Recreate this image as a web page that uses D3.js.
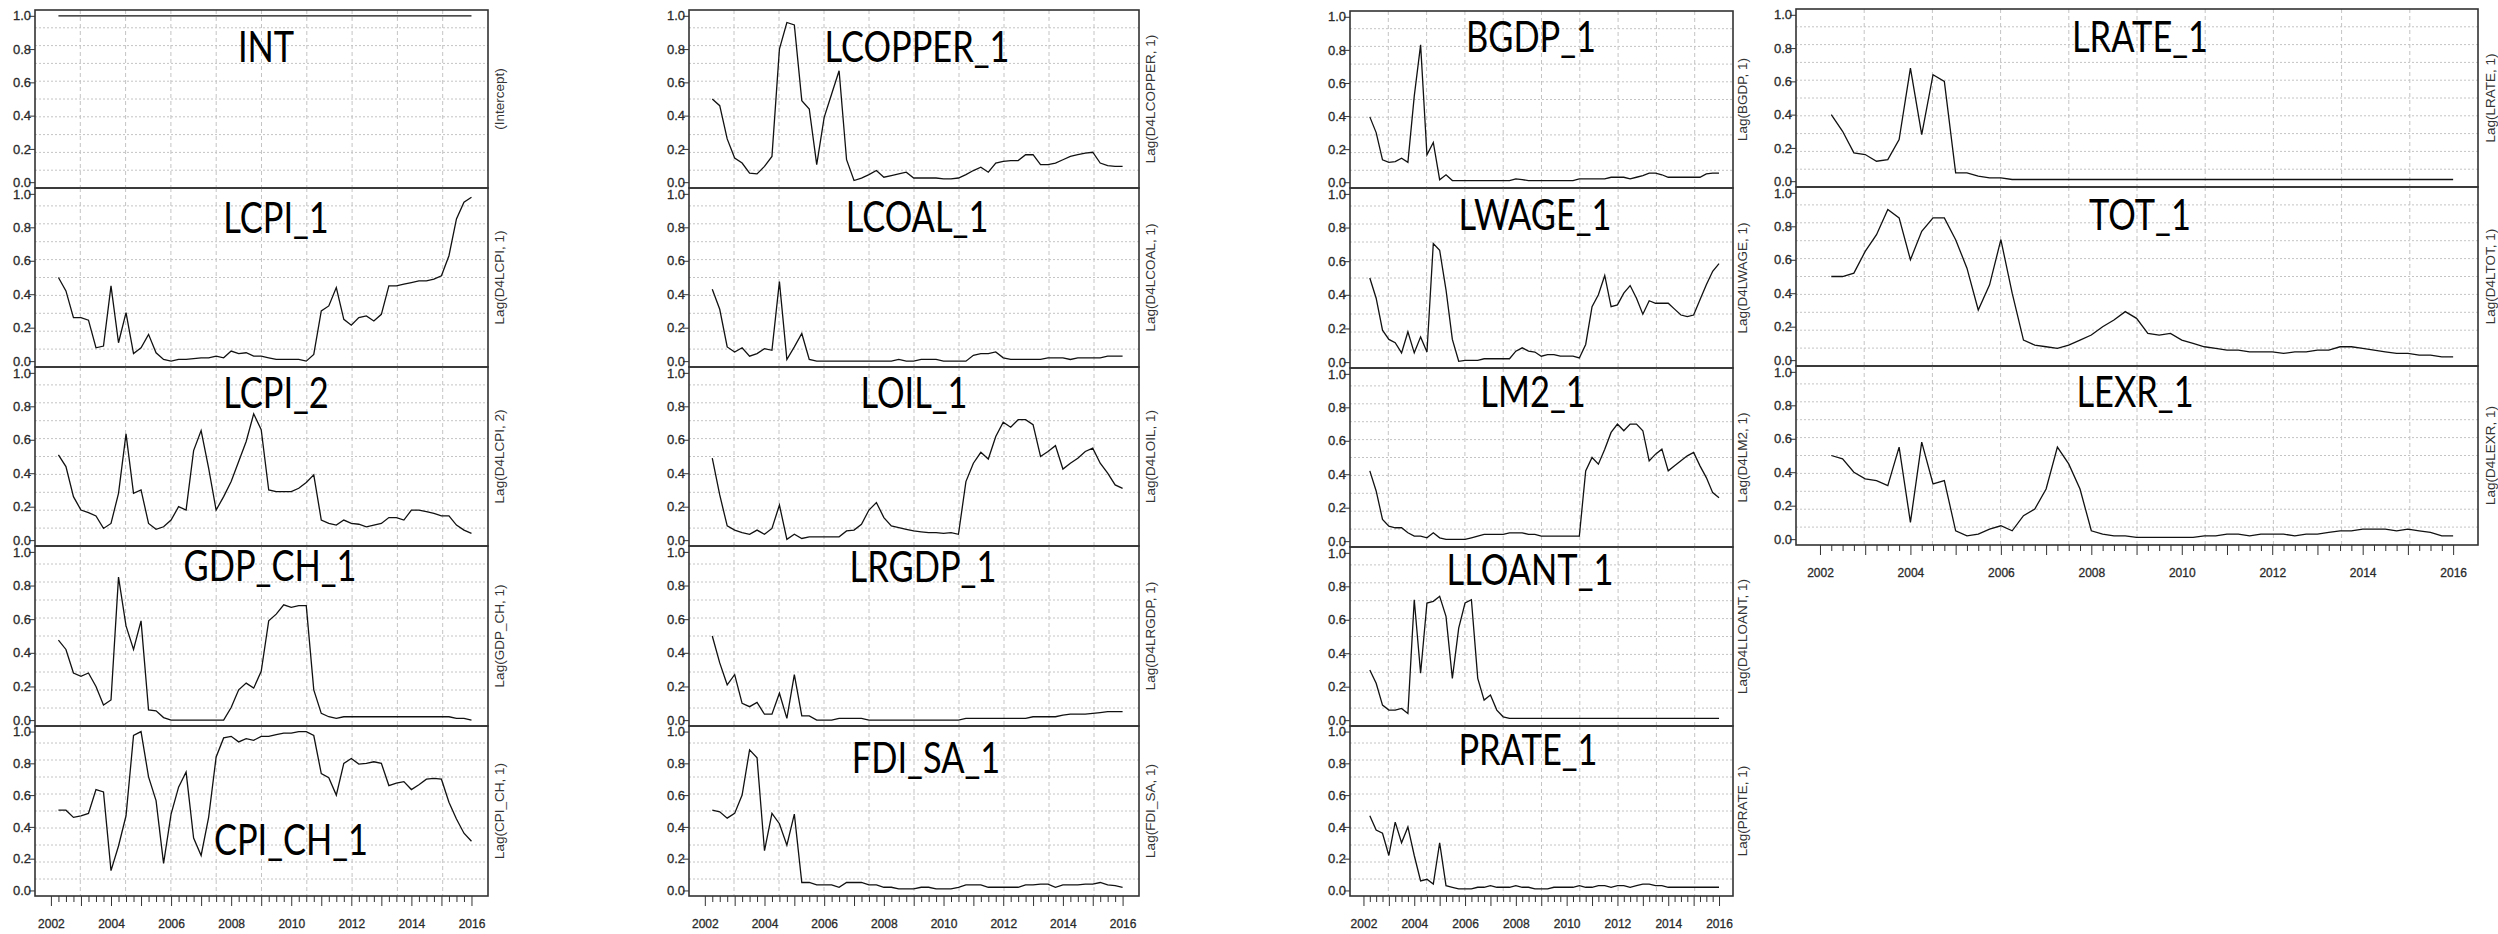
<!DOCTYPE html>
<head>
  <meta charset="utf-8">
  <script src="https://d3js.org/d3.v7.min.js"></script>
  <style>
    body { margin: 0; background: #fff; }
    .tick text { font-family: "Liberation Sans", Arial, sans-serif; fill: #2a2a2a; stroke: #2a2a2a; stroke-width: 0.3px; }
    .side { font-family: "Liberation Sans", Arial, sans-serif; font-size: 13.5px; fill: #333; }
    .title { font-family: Lato, "Open Sans", sans-serif; font-size: 42px; fill: #000; }
  </style>
</head>

<body>
  <script>
    // quarterly estimates, 2002Q2 .. 2016Q1
    var INT = [1,1,1,1,1,1,1,1,1,1, 1,1,1,1,1,1,1,1,1,1, 1,1,1,1,1,1,1,1,1,1, 1,1,1,1,1,1,1,1,1,1, 1,1,1,1,1,1,1,1,1,1, 1,1,1,1,1,1];
    var LCPI_1 = [0.50,0.42,0.26,0.26,0.245,0.08,0.09,0.45,0.11,0.29, 0.045,0.08,0.16,0.05,0.01,0.0,0.01,0.01,0.015,0.02, 0.02,0.03,0.02,0.06,0.045,0.05,0.03,0.03,0.02,0.01, 0.01,0.01,0.01,0.0,0.04,0.30,0.33,0.44,0.25,0.215, 0.26,0.27,0.24,0.28,0.45,0.45,0.46,0.47,0.48,0.48, 0.49,0.51,0.63,0.85,0.95,0.98];
    var LCPI_2 = [0.51,0.44,0.26,0.18,0.165,0.145,0.07,0.10,0.28,0.635, 0.28,0.30,0.10,0.065,0.08,0.12,0.20,0.18,0.535,0.655, 0.43,0.18,0.26,0.35,0.47,0.59,0.755,0.66,0.30,0.29, 0.29,0.29,0.31,0.345,0.39,0.12,0.10,0.09,0.12,0.10, 0.095,0.08,0.09,0.10,0.135,0.135,0.12,0.18,0.18,0.17, 0.16,0.145,0.145,0.09,0.06,0.04];
    var GDP_CH_1 = [0.475,0.42,0.28,0.26,0.28,0.20,0.09,0.12,0.85,0.56, 0.42,0.59,0.06,0.055,0.015,0,0,0,0,0, 0,0,0,0.075,0.18,0.22,0.19,0.29,0.59,0.63, 0.685,0.67,0.68,0.68,0.18,0.04,0.02,0.01,0.02,0.02, 0.02,0.02,0.02,0.02,0.02,0.02,0.02,0.02,0.02,0.02, 0.02,0.02,0.02,0.01,0.01,0.0];
    var CPI_CH_1 = [0.505,0.505,0.46,0.47,0.485,0.635,0.62,0.125,0.28,0.47, 0.975,1.0,0.715,0.565,0.17,0.48,0.65,0.745,0.33,0.22, 0.46,0.84,0.96,0.97,0.935,0.955,0.945,0.97,0.97,0.98, 0.99,0.99,1.0,1.0,0.975,0.735,0.71,0.60,0.80,0.83, 0.795,0.80,0.81,0.80,0.66,0.675,0.685,0.635,0.665,0.70, 0.705,0.70,0.555,0.45,0.36,0.31];

    var LCOPPER_1 = [0.50,0.46,0.26,0.145,0.115,0.055,0.05,0.095,0.155,0.80, 0.96,0.945,0.49,0.44,0.105,0.39,0.53,0.67,0.135,0.01, 0.025,0.045,0.07,0.03,0.04,0.05,0.06,0.025,0.025,0.025, 0.025,0.02,0.02,0.025,0.045,0.07,0.09,0.06,0.115,0.125, 0.13,0.13,0.165,0.165,0.105,0.105,0.115,0.135,0.155,0.165, 0.175,0.18,0.115,0.10,0.095,0.095];
    var LCOAL_1 = [0.43,0.31,0.085,0.055,0.08,0.03,0.045,0.075,0.065,0.475, 0.01,0.085,0.165,0.01,0,0,0,0,0,0, 0,0,0,0,0,0.01,0,0,0.01,0.01, 0.01,0,0,0,0,0.035,0.045,0.045,0.055,0.02, 0.01,0.01,0.01,0.01,0.01,0.02,0.02,0.02,0.01,0.02, 0.02,0.02,0.02,0.03,0.03,0.03];
    var LOIL_1 = [0.49,0.27,0.085,0.06,0.045,0.035,0.06,0.035,0.07,0.21, 0.005,0.035,0.01,0.02,0.02,0.02,0.02,0.02,0.055,0.06, 0.095,0.18,0.225,0.135,0.085,0.075,0.065,0.055,0.05,0.045, 0.045,0.04,0.045,0.035,0.35,0.46,0.525,0.485,0.62,0.705, 0.675,0.72,0.72,0.69,0.50,0.53,0.565,0.425,0.46,0.49, 0.53,0.55,0.46,0.40,0.33,0.31];
    var LRGDP_1 = [0.50,0.34,0.21,0.27,0.10,0.08,0.105,0.035,0.035,0.16, 0.01,0.27,0.025,0.025,0,0,0,0.01,0.01,0.01, 0.01,0,0,0,0,0,0,0,0,0, 0,0,0,0,0.01,0.01,0.01,0.01,0.01,0.01, 0.01,0.01,0.01,0.02,0.02,0.02,0.02,0.03,0.035,0.035, 0.035,0.04,0.045,0.05,0.05,0.05];
    var FDI_SA_1 = [0.505,0.495,0.455,0.485,0.60,0.885,0.835,0.25,0.485,0.42, 0.285,0.48,0.05,0.05,0.035,0.035,0.035,0.02,0.05,0.05, 0.05,0.035,0.035,0.02,0.02,0.01,0.01,0.01,0.02,0.02, 0.01,0.01,0.01,0.02,0.035,0.035,0.035,0.02,0.02,0.02, 0.02,0.02,0.035,0.035,0.04,0.04,0.02,0.035,0.035,0.035, 0.04,0.04,0.05,0.035,0.03,0.02];

    var BGDP_1 = [0.395,0.30,0.135,0.12,0.125,0.145,0.12,0.52,0.83,0.165, 0.24,0.015,0.045,0.01,0.01,0.01,0.01,0.01,0.01,0.01, 0.01,0.01,0.01,0.02,0.015,0.01,0.01,0.01,0.01,0.01, 0.01,0.01,0.01,0.02,0.02,0.02,0.02,0.02,0.03,0.03, 0.03,0.02,0.03,0.04,0.055,0.055,0.045,0.03,0.03,0.03, 0.03,0.03,0.03,0.05,0.055,0.055];
    var LWAGE_1 = [0.50,0.38,0.19,0.135,0.115,0.055,0.18,0.055,0.15,0.06, 0.705,0.665,0.43,0.135,0.005,0.01,0.01,0.01,0.02,0.02, 0.02,0.02,0.02,0.065,0.085,0.065,0.06,0.035,0.045,0.045, 0.035,0.035,0.035,0.025,0.105,0.33,0.40,0.515,0.33,0.34, 0.41,0.455,0.38,0.285,0.365,0.35,0.35,0.35,0.315,0.28, 0.27,0.28,0.37,0.46,0.54,0.585];
    var LM2_1 = [0.42,0.30,0.13,0.09,0.08,0.08,0.05,0.03,0.03,0.02, 0.05,0.02,0.01,0.01,0.01,0.01,0.02,0.03,0.04,0.04, 0.04,0.04,0.05,0.05,0.05,0.04,0.04,0.03,0.03,0.03, 0.03,0.03,0.03,0.03,0.42,0.50,0.46,0.55,0.65,0.70, 0.66,0.70,0.70,0.66,0.48,0.52,0.55,0.42,0.45,0.48, 0.51,0.53,0.45,0.38,0.29,0.26];
    var LLOANT_1 = [0.30,0.22,0.09,0.06,0.06,0.07,0.04,0.72,0.28,0.70, 0.71,0.74,0.62,0.25,0.55,0.70,0.72,0.25,0.12,0.15, 0.06,0.02,0.01,0.01,0.01,0.01,0.01,0.01,0.01,0.01, 0.01,0.01,0.01,0.01,0.01,0.01,0.01,0.01,0.01,0.01, 0.01,0.01,0.01,0.01,0.01,0.01,0.01,0.01,0.01,0.01, 0.01,0.01,0.01,0.01,0.01,0.01];
    var PRATE_1 = [0.47,0.38,0.36,0.22,0.43,0.30,0.40,0.22,0.06,0.07, 0.04,0.30,0.03,0.02,0.01,0.01,0.01,0.02,0.02,0.03, 0.02,0.02,0.02,0.03,0.02,0.02,0.01,0.01,0.01,0.02, 0.02,0.02,0.02,0.03,0.02,0.02,0.03,0.03,0.02,0.03, 0.03,0.02,0.03,0.04,0.04,0.03,0.03,0.02,0.02,0.02, 0.02,0.02,0.02,0.02,0.02,0.02];

    var LRATE_1 = [0.40,0.30,0.17,0.16,0.12,0.13,0.25,0.68,0.28,0.64, 0.60,0.05,0.05,0.03,0.02,0.02,0.01,0.01,0.01,0.01, 0.01,0.01,0.01,0.01,0.01,0.01,0.01,0.01,0.01,0.01, 0.01,0.01,0.01,0.01,0.01,0.01,0.01,0.01,0.01,0.01, 0.01,0.01,0.01,0.01,0.01,0.01,0.01,0.01,0.01,0.01, 0.01,0.01,0.01,0.01,0.01,0.01];
    var TOT_1 = [0.50,0.50,0.52,0.65,0.75,0.90,0.85,0.60,0.77,0.85, 0.85,0.72,0.55,0.30,0.45,0.72,0.40,0.12,0.09,0.08, 0.07,0.09,0.12,0.15,0.20,0.24,0.29,0.25,0.16,0.15, 0.16,0.12,0.10,0.08,0.07,0.06,0.06,0.05,0.05,0.05, 0.04,0.05,0.05,0.06,0.06,0.08,0.08,0.07,0.06,0.05, 0.04,0.04,0.03,0.03,0.02,0.02];
    var LEXR_1 = [0.50,0.48,0.40,0.36,0.35,0.32,0.55,0.10,0.58,0.33, 0.35,0.05,0.02,0.03,0.06,0.08,0.05,0.14,0.18,0.30, 0.55,0.45,0.30,0.05,0.03,0.02,0.02,0.01,0.01,0.01, 0.01,0.01,0.01,0.02,0.02,0.03,0.03,0.02,0.03,0.03, 0.03,0.02,0.03,0.03,0.04,0.05,0.05,0.06,0.06,0.06, 0.05,0.06,0.05,0.04,0.02,0.02];

    var panelNames = [
      ["INT", "LCPI_1", "LCPI_2", "GDP_CH_1", "CPI_CH_1"],
      ["LCOPPER_1", "LCOAL_1", "LOIL_1", "LRGDP_1", "FDI_SA_1"],
      ["BGDP_1", "LWAGE_1", "LM2_1", "LLOANT_1", "PRATE_1"],
      ["LRATE_1", "TOT_1", "LEXR_1"]
    ];
    var sideLabels = [
      ["(Intercept)", "Lag(D4LCPI, 1)", "Lag(D4LCPI, 2)", "Lag(GDP_CH, 1)", "Lag(CPI_CH, 1)"],
      ["Lag(D4LCOPPER, 1)", "Lag(D4LCOAL, 1)", "Lag(D4LOIL, 1)", "Lag(D4LRGDP, 1)", "Lag(FDI_SA, 1)"],
      ["Lag(BGDP, 1)", "Lag(D4LWAGE, 1)", "Lag(D4LM2, 1)", "Lag(D4LLOANT, 1)", "Lag(PRATE, 1)"],
      ["Lag(LRATE, 1)", "Lag(D4LTOT, 1)", "Lag(D4LEXR, 1)"]
    ];
    var yTicks = [0, 0.2, 0.4, 0.6, 0.8, 1.0];
    var yearLabels = ["2002", "2004", "2006", "2008", "2010", "2012", "2014", "2016"];

    var seriesByName = {
      INT: INT, LCPI_1: LCPI_1, LCPI_2: LCPI_2, GDP_CH_1: GDP_CH_1, CPI_CH_1: CPI_CH_1,
      LCOPPER_1: LCOPPER_1, LCOAL_1: LCOAL_1, LOIL_1: LOIL_1, LRGDP_1: LRGDP_1, FDI_SA_1: FDI_SA_1,
      BGDP_1: BGDP_1, LWAGE_1: LWAGE_1, LM2_1: LM2_1, LLOANT_1: LLOANT_1, PRATE_1: PRATE_1,
      LRATE_1: LRATE_1, TOT_1: TOT_1, LEXR_1: LEXR_1
    };

    // time axis: one point per quarter
    var quarters = d3.range(56).map(function(i) { return 2002.25 + i * 0.25; });
    var tickQuarters = d3.range(57).map(function(i) { return 2002 + i * 0.25; });

    // layout of the four stitched columns
    var columns = [
      { x0: 35, x1: 488, side: 499, breaks: [10, 188, 367, 546, 726, 896],
        titles: [[266, 62], [276, 233], [276, 408], [270, 581], [291, 855]] },
      { x0: 689, x1: 1139, side: 1150, breaks: [10, 188, 367, 546, 726, 896],
        titles: [[917, 62], [917, 232], [914, 408], [923, 582], [926, 773]] },
      { x0: 1350, x1: 1733, side: 1742, breaks: [11, 188, 368, 547, 726, 896],
        titles: [[1531, 52], [1535, 230], [1533, 407], [1530, 585], [1528, 765]] },
      { x0: 1796, x1: 2478, side: 2490, breaks: [9, 187, 366, 545],
        titles: [[2140, 52], [2140, 230], [2135, 407]] }
    ];
    var xDomain = [2001.47, 2016.55];
    var yDomain = [-0.035, 1.035];

    var svg = d3.select("body").append("svg")
      .attr("width", 2498)
      .attr("height", 934);

    var line = d3.line();

    columns.forEach(function(col, ci) {
      var x = d3.scaleLinear().domain(xDomain).range([col.x0, col.x1]);
      var w = col.x1 - col.x0;

      panelNames[ci].forEach(function(name, pi) {
        var top = col.breaks[pi], bottom = col.breaks[pi + 1];
        var y = d3.scaleLinear().domain(yDomain).range([bottom, top]);
        var g = svg.append("g");

        // grid splits the panel into tenths
        g.selectAll(".vgrid").data(d3.range(1, 10)).enter().append("line")
          .attr("x1", function(j) { return col.x0 + w * j / 10; })
          .attr("x2", function(j) { return col.x0 + w * j / 10; })
          .attr("y1", top).attr("y2", bottom)
          .style("stroke", "#c4c4c4").style("stroke-dasharray", "4,3");
        g.selectAll(".hgrid").data(d3.range(1, 10)).enter().append("line")
          .attr("x1", col.x0).attr("x2", col.x1)
          .attr("y1", function(j) { return bottom - (bottom - top) * j / 10; })
          .attr("y2", function(j) { return bottom - (bottom - top) * j / 10; })
          .style("stroke", "#c4c4c4").style("stroke-dasharray", "2,2");

        line.x(function(d, i) { return x(quarters[i]); })
            .y(function(d) { return y(d); });
        g.append("path")
          .datum(seriesByName[name])
          .attr("d", line)
          .style("fill", "none")
          .style("stroke", "#111")
          .style("stroke-width", 1.3);

        g.append("rect")
          .attr("x", col.x0).attr("y", top)
          .attr("width", w).attr("height", bottom - top)
          .style("fill", "none").style("stroke", "#333").style("stroke-width", 1.6);

        g.append("g")
          .attr("transform", "translate(" + col.x0 + ",0)")
          .call(d3.axisLeft(y).tickValues(yTicks).tickFormat(d3.format(".1f"))
            .tickSize(6).tickPadding(-2))
          .call(function(a) {
            a.select(".domain").remove();
            a.selectAll(".tick line").style("stroke", "#333");
            a.selectAll(".tick text").style("font-size", "13px");
          });

        g.append("text")
          .attr("class", "side")
          .attr("text-anchor", "middle")
          .attr("transform", "translate(" + col.side + "," + ((top + bottom) / 2) + ") rotate(-90)")
          .attr("dy", "0.35em")
          .text(sideLabels[ci][pi]);

        g.append("text")
          .attr("class", "title")
          .attr("text-anchor", "middle")
          .attr("transform", "translate(" + col.titles[pi][0] + "," + col.titles[pi][1] + ") scale(0.82,1)")
          .text(name);
      });

      // shared time axis under the last panel
      var last = col.breaks[col.breaks.length - 1];
      svg.append("g")
        .attr("transform", "translate(0," + last + ")")
        .call(d3.axisBottom(x).tickValues(tickQuarters).tickSize(6)
          .tickFormat(function(d) { return yearLabels.indexOf(String(d)) >= 0 ? String(d) : ""; }))
        .call(function(a) {
          a.select(".domain").remove();
          a.selectAll(".tick line")
            .style("stroke", "#333")
            .attr("y2", function(d) { return d % 1 === 0 ? 10 : 6; });
          a.selectAll(".tick text")
            .attr("y", 23)
            .style("font-size", "12px");
        });
    });
  </script>
</body>
